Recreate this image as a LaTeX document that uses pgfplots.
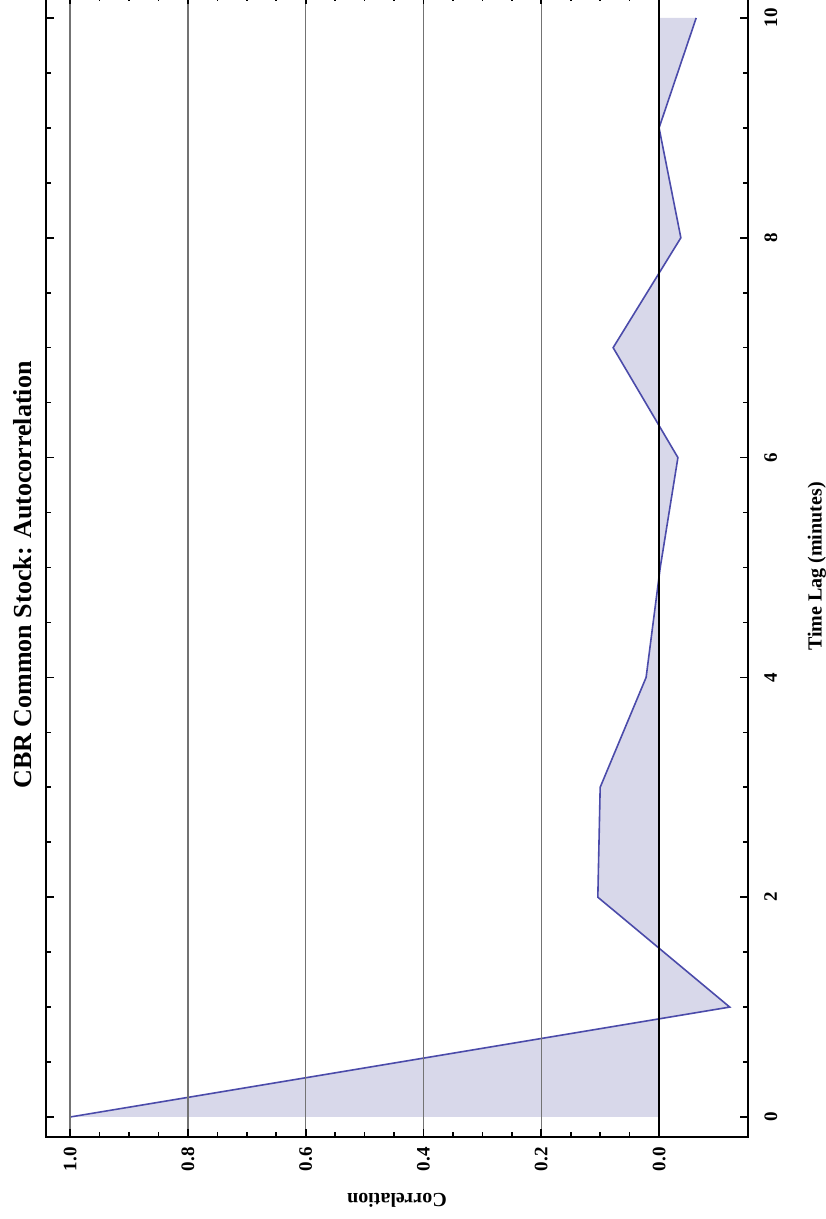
\documentclass[border=0pt]{standalone}
\usepackage{pgfplots}
\pgfplotsset{compat=1.18}
\usepackage{fontspec}
\setmainfont{Liberation Serif}
\definecolor{fillc}{RGB}{216,216,234}
\definecolor{linec}{RGB}{75,75,170}
\begin{document}
\begin{tikzpicture}
\begin{axis}[
  at={(0,0)}, anchor=south west,
  scale only axis, width=351pt, height=570.5pt,
  x dir=reverse,
  xmin=-0.151, xmax=1.041, ymin=-0.182, ymax=10.2,
  axis on top,
  axis line style={line width=1.1pt},
  tick align=inside,
  tick style={black, line width=0.8pt},
  major tick length=4pt, minor tick length=2.5pt,
  xtick={0,0.2,0.4,0.6,0.8,1.0},
  minor x tick num=3,
  ytick={0,2,4,6,8,10},
  minor y tick num=3,
  xmajorgrids,
  grid style={black!55, line width=0.7pt},
  extra x ticks={0}, extra x tick labels={},
  extra x tick style={grid style={black, line width=0.9pt}},
  /pgf/number format/assume math mode=true,
  xticklabel={\pgfmathprintnumber[fixed,fixed zerofill,precision=1]{\tick}},
  yticklabel={\pgfmathprintnumber[fixed,precision=0]{\tick}},
  xticklabel style={font=\fontsize{9.5}{11}\selectfont\bfseries, rotate=90, anchor=east, inner sep=5pt},
  yticklabel style={font=\fontsize{9.5}{11}\selectfont\bfseries, rotate=90, anchor=north, inner sep=8pt},
  yticklabel pos=right,
  xlabel={Correlation},
  ylabel={Time Lag (minutes)},
  xlabel style={font=\fontsize{10}{12}\selectfont\bfseries, rotate=180, anchor=south, at={(ticklabel cs:0.5)}, inner sep=6pt},
  ylabel style={font=\fontsize{10}{12}\selectfont\bfseries, anchor=north, at={(ticklabel cs:0.5)}, inner sep=7pt},
]
\addplot[fill=fillc, draw=none] coordinates {
 (0,0) (1.0,0) (-0.12,1) (0.104,2) (0.10,3) (0.022,4) (-0.002,5) (-0.032,6) (0.078,7) (-0.037,8) (0.0,9) (-0.063,10) (0,10)
} -- cycle;
\addplot[linec, line width=0.8pt] coordinates {
 (1.0,0) (-0.12,1) (0.104,2) (0.10,3) (0.022,4) (-0.002,5) (-0.032,6) (0.078,7) (-0.037,8) (0.0,9) (-0.063,10)
};
\end{axis}
\node[rotate=90, font=\fontsize{13}{15}\selectfont\bfseries] at (-11.5pt, 281pt) {CBR Common Stock: Autocorrelation};
\pgfresetboundingbox
\path[use as bounding box] (-23pt,-41pt) rectangle (389.5pt,568.5pt);
\end{tikzpicture}
\end{document}
